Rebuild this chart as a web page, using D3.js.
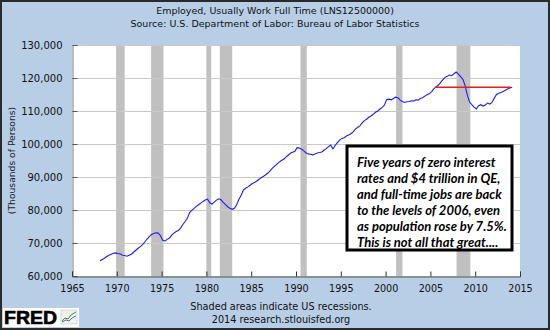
<!DOCTYPE html>
<html><head><meta charset="utf-8">
<script src="https://cdn.jsdelivr.net/npm/d3@7"></script>
<style>body{margin:0;background:#fff}svg{display:block}</style>
</head><body>
<svg id="c" width="550" height="330"></svg>
<script>
const titleLines = ["Employed, Usually Work Full Time (LNS12500000)", "Source: U.S. Department of Labor: Bureau of Labor Statistics"];
const footerLines = ["Shaded areas indicate US recessions.", "2014 research.stlouisfed.org"];
const yAxisLabel = "(Thousands of Persons)";
const xTicks = [1965,1970,1975,1980,1985,1990,1995,2000,2005,2010,2015];
const yTicks = [60000,70000,80000,90000,100000,110000,120000,130000];
// Recessions (decimal years)
const recessions = [[1969.92,1970.88],[1973.83,1975.21],[1980.0,1980.54],[1981.5,1982.88],[1990.5,1991.21],[2001.17,2001.88],[2007.92,2009.46]];
// Quarterly values (thousands), starting 1968 Q1
const startYear = 1968;
const values = [
 64600,65000,65400,65900, 66300,66600,66900,67000, 66800,66700,66300,66200,
 66000,66300,66600,67200, 67800,68400,68900,69500, 70300,71200,71900,72600,
 72900,73100,73000,72200, 70800,70600,71100,71500, 72400,73000,73500,73800,
 74500,75600,76500,77500, 79200,79900,80500,81100, 81600,82100,82600,83000,
 83300,82200,81800,82400, 83000,83400,83100,82300, 81600,81000,80500,80200,
 80500,81600,83200,84500, 86000,86600,87000,87500, 88000,88300,88800,89300,
 89800,90200,90700,91200, 91900,92700,93300,93900, 94500,95000,95400,96000,
 96600,97200,97500,97800, 98900,98800,98400,97900, 97300,97000,96900,96700,
 97000,97300,97400,97600, 98100,98600,99200,99700, 98500,99600,100400,101200,
 101700,101900,102400,102700, 103100,103700,104500,105000, 105500,106400,107100,107500,
 108100,108500,109000,109600, 110000,110600,111100,111800, 113500,113600,113400,113800,
 114200,114000,113300,112900, 112600,112800,112900,113100, 113000,113400,113300,113800,
 114000,114500,114900,115200, 115800,116700,117300,117800, 118600,119400,120200,120500,
 120900,120700,121300,121800, 121200,120400,119600,117700, 114800,112700,111900,111200,
 110600,111600,111900,111500, 111800,112400,112100,112600, 113900,115000,115400,115600,
 115900,116300,116700,117000, 117200
];
const refLine = {from: 2005.5, to: 2014.0, value: 117200};
const noteLines = ["Five years of zero interest","rates and $4 trillion in QE,","and full-time jobs are back","to the levels of 2006, even","as population rose by 7.5%.","This is not all that great...."];

const svg = d3.select("#c");
const W = 550, H = 330;
const m = {l:72, r:30, t:45, b:54};
const x = d3.scaleLinear().domain([1965,2015]).range([m.l, W-m.r]);
const y = d3.scaleLinear().domain([60000,130000]).range([H-m.b, m.t]);

svg.append("rect").attr("x",1).attr("y",1).attr("width",W-2).attr("height",H-2)
  .attr("fill","#b7cee6").attr("stroke","#2a2a2a").attr("stroke-width",2);

const font = "DejaVu Sans, Verdana, sans-serif";
svg.selectAll("text.title").data(titleLines).join("text")
  .attr("x", W/2).attr("y",(d,i)=>13.5+i*13).attr("text-anchor","middle")
  .attr("font-family",font).attr("font-size",9.5).attr("fill","#111").text(d=>d);

svg.append("rect").attr("x",m.l).attr("y",m.t).attr("width",x(2015)-m.l).attr("height",y(60000)-m.t).attr("fill","#fff");

svg.selectAll("rect.rec").data(recessions).join("rect").attr("class","rec")
  .attr("x",d=>x(d[0])).attr("width",d=>x(d[1])-x(d[0]))
  .attr("y",m.t).attr("height",y(60000)-m.t).attr("fill","#c0c0c0");

svg.selectAll("line.grid").data(yTicks).join("line").attr("class","grid")
  .attr("x1",m.l).attr("x2",x(2015)).attr("y1",d=>y(d)+0.5).attr("y2",d=>y(d)+0.5)
  .attr("stroke","#c8c8c8").attr("stroke-width",1);

// axes
const ya = d3.axisLeft(y).tickValues(yTicks).tickFormat(d3.format(",")).tickSize(-5).tickPadding(10);
const yg = svg.append("g").attr("transform",`translate(${m.l+0.5},0)`).call(ya);
yg.select(".domain").attr("stroke","#777");
yg.selectAll(".tick line").attr("stroke","#555");
yg.selectAll("text").attr("font-family",font).attr("font-size",10).attr("fill","#111");

const xa = d3.axisBottom(x).tickValues(xTicks).tickFormat(d3.format("d")).tickSize(-5).tickPadding(9);
const xg = svg.append("g").attr("transform",`translate(0,${y(60000)+0.5})`).call(xa);
xg.select(".domain").attr("stroke","#555");
xg.selectAll(".tick line").attr("stroke","#333");
xg.selectAll("text").attr("font-family",font).attr("font-size",9.6).attr("fill","#111");

svg.append("text").attr("transform",`translate(15,${(m.t+H-m.b)/2}) rotate(-90)`)
  .attr("text-anchor","middle").attr("font-family",font).attr("font-size",9.2).attr("fill","#222").text(yAxisLabel);

const pts = values.map((v,i)=>({t:startYear+i/4+0.125, v}));
svg.append("path").datum(pts).attr("fill","none").attr("stroke","#1a1aff").attr("stroke-width",1.1)
  .attr("d", d3.line().x(d=>x(d.t)).y(d=>y(d.v)));

svg.append("line").attr("x1",x(refLine.from)).attr("x2",x(refLine.to))
  .attr("y1",y(refLine.value)).attr("y2",y(refLine.value)).attr("stroke","#e0201a").attr("stroke-width",1.3);

// annotation box
const bx = 347, by = 146, bw = 165, bh = 104;
svg.append("rect").attr("x",bx).attr("y",by).attr("width",bw).attr("height",bh)
  .attr("fill","#fff").attr("stroke","#000").attr("stroke-width",3);
svg.selectAll("text.note").data(noteLines).join("text")
  .attr("x",bx+10).attr("y",(d,i)=>by+21+i*16)
  .attr("font-family","Lato, sans-serif").attr("font-weight","bold").attr("font-style","italic")
  .attr("font-size",13).attr("fill","#000").text(d=>d);

svg.selectAll("text.foot").data(footerLines).join("text")
  .attr("x",281).attr("y",(d,i)=>310+i*13).attr("text-anchor","middle")
  .attr("font-family",font).attr("font-size",9.7).attr("fill","#111").text(d=>d);

// FRED logo
const lg = svg.append("g");
lg.append("rect").attr("x",3).attr("y",308).attr("width",76).attr("height",19).attr("fill","#fff");
lg.append("text").attr("x",4).attr("y",323.5).attr("font-family","Liberation Sans, Arial, sans-serif")
  .attr("font-weight","bold").attr("font-size",17.5).attr("fill","#000")
  .attr("textLength",53).attr("lengthAdjust","spacingAndGlyphs").attr("stroke","#000").attr("stroke-width",0.6).text("FRED");
lg.append("rect").attr("x",61).attr("y",310).attr("width",16).attr("height",14).attr("fill","#eef2e8").attr("stroke","#bbb").attr("stroke-width",0.5);
lg.append("path").attr("d","M62,321 L65,318 L68,319 L71,315 L76,312").attr("fill","none").attr("stroke","#3a8a3a").attr("stroke-width",1);
lg.append("path").attr("d","M62,322 L66,320 L69,321 L72,318 L76,316").attr("fill","none").attr("stroke","#4a6abf").attr("stroke-width",1);
</script>
</body></html>
